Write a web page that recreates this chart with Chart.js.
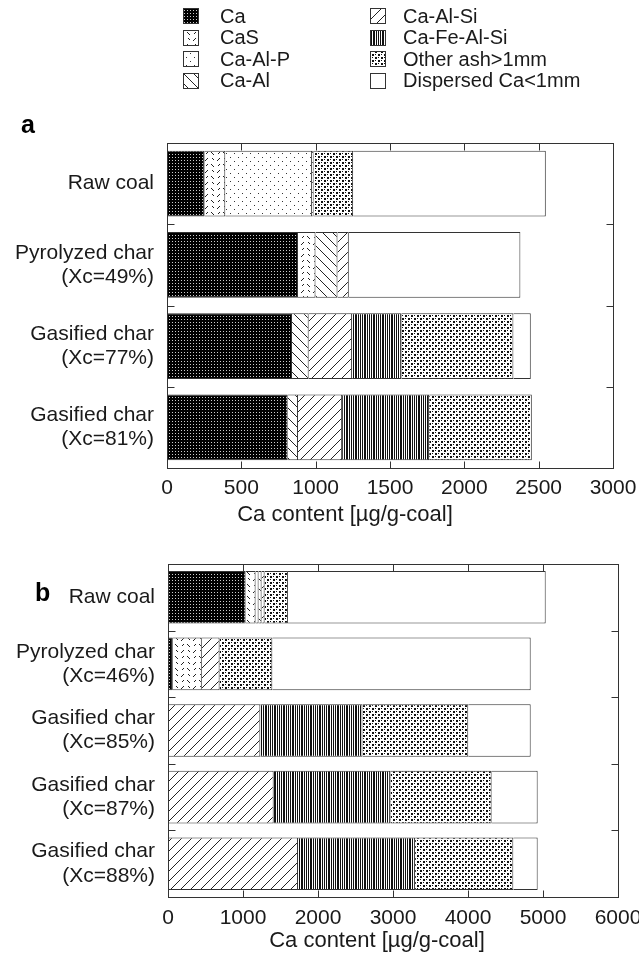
<!DOCTYPE html>
<html><head><meta charset="utf-8">
<script src="https://cdn.jsdelivr.net/npm/chart.js@4/dist/chart.umd.min.js"></script>
<style>
html,body{margin:0;padding:0;background:#fff;width:639px;height:958px;overflow:hidden}
canvas{position:absolute;left:0}
#ca{top:0}
#cb{top:540px}
</style></head><body>
<canvas id="ca" width="639" height="535" style="width:639px;height:535px"></canvas>
<canvas id="cb" width="639" height="418" style="width:639px;height:418px"></canvas>
<script>
// ---------- data ----------
const seriesNames = ['Ca','CaS','Ca-Al-P','Ca-Al','Ca-Al-Si','Ca-Fe-Al-Si','Other ash>1mm','Dispersed Ca<1mm'];
const patternKeys = ['ca','cas','caalp','caal','caalsi','cafealsi','other','disp'];

const categoriesA = [['Raw coal'],['Pyrolyzed char','(Xc=49%)'],['Gasified char','(Xc=77%)'],['Gasified char','(Xc=81%)']];
const caA        = [253, 881, 841, 812];
const casA       = [139, 118, 0, 0];
const caAlPA     = [584, 0, 0, 0];
const caAlA      = [10, 148, 112, 69];
const caAlSiA    = [0, 76, 292, 297];
const caFeAlSiA  = [0, 0, 333, 586];
const otherA     = [266, 0, 752, 690];
const dispersedA = [1296, 1154, 117, 0];
const ticksA = [0, 500, 1000, 1500, 2000, 2500, 3000];

const categoriesB = [['Raw coal'],['Pyrolyzed char','(Xc=46%)'],['Gasified char','(Xc=85%)'],['Gasified char','(Xc=87%)'],['Gasified char','(Xc=88%)']];
const caB        = [1035, 64, 0, 0, 0];
const casB       = [133, 387, 0, 0, 0];
const caAlPB     = [40, 0, 0, 0, 0];
const caAlB      = [40, 0, 0, 0, 0];
const caAlSiB    = [40, 237, 1231, 1409, 1733];
const caFeAlSiB  = [0, 0, 1362, 1558, 1562];
const otherB     = [311, 703, 1410, 1348, 1309];
const dispersedB = [3437, 3445, 833, 614, 325];
const ticksB = [0, 1000, 2000, 3000, 4000, 5000, 6000];

const axisTitle = 'Ca content [\u00b5g/g-coal]';

// ---------- patterns ----------
function tile(w, h, draw) {
  const c = document.createElement('canvas'); c.width = w; c.height = h;
  const g = c.getContext('2d'); draw(g, w, h);
  return g.createPattern(c, 'repeat');
}
const patterns = {
  ca: tile(6, 6, (g) => { g.fillStyle = '#000'; g.fillRect(0,0,6,6); g.fillStyle = '#ccc'; g.fillRect(1,1,1,1); g.fillRect(4,1,1,1); g.fillRect(1,4,1,1); g.fillRect(4,4,1,1); }),
  cas: tile(12, 12, (g) => { g.fillStyle = '#fff'; g.fillRect(0,0,12,12); g.strokeStyle = '#222'; g.lineWidth = 1;
         g.beginPath(); g.moveTo(1,5); g.lineTo(4,2); g.moveTo(7,8); g.lineTo(10,11); g.moveTo(8,2); g.lineTo(10,4); g.moveTo(2,10); g.lineTo(4,8); g.stroke(); }),
  caalp: tile(8, 8, (g) => { g.fillStyle = '#fff'; g.fillRect(0,0,8,8); g.fillStyle = '#333'; g.fillRect(2,1,1,1); g.fillRect(6,5,1,1); }),
  caal: tile(10, 10, (g) => { g.fillStyle = '#fff'; g.fillRect(0,0,10,10); g.strokeStyle = '#222'; g.lineWidth = 1;
         g.beginPath(); g.moveTo(-1,-1); g.lineTo(11,11); g.stroke(); }),
  caalsi: tile(10, 10, (g) => { g.fillStyle = '#fff'; g.fillRect(0,0,10,10); g.strokeStyle = '#222'; g.lineWidth = 1;
         g.beginPath(); g.moveTo(-1,11); g.lineTo(11,-1); g.stroke(); }),
  cafealsi: tile(9, 4, (g) => { g.fillStyle = '#fff'; g.fillRect(0,0,9,4); g.fillStyle = '#111'; g.fillRect(0,0,1,4); g.fillRect(2,0,1,4); g.fillRect(4,0,1,4); g.fillRect(5,0,1,4); g.fillRect(7,0,1,4); }),
  other: tile(6, 6, (g) => { g.fillStyle = '#fff'; g.fillRect(0,0,6,6); g.fillStyle = '#111'; g.fillRect(0,0,2,2); g.fillRect(3,3,2,2); g.fillRect(3,0,1,1); g.fillRect(0,3,1,1); }),
  disp: '#ffffff'
};

const FONT = "'Liberation Sans', Arial, Helvetica, sans-serif";
const TXT = '#1a1a1a';
const EDGE = '#333';

function makeDatasets(arrays, barPct) {
  return arrays.map((arr, i) => ({
    label: seriesNames[i],
    data: arr.map(v => v === 0 ? null : v),
    backgroundColor: patterns[patternKeys[i]],
    borderColor: EDGE,
    borderWidth: {top: 1, right: 1, bottom: 1, left: 0},
    borderSkipped: false,
    barPercentage: barPct,
    categoryPercentage: 1.0
  }));
}

// ---------- plugins ----------
const framePlugin = {
  id: 'frame',
  afterDatasetsDraw(chart) {
    const {ctx, chartArea: {left, right, top, bottom}, scales: {x, y}} = chart;
    ctx.save();
    ctx.strokeStyle = EDGE; ctx.lineWidth = 1;
    const L = Math.round(left) + 0.5, R = Math.round(right) + 0.5, T = Math.round(top) + 0.5, B = Math.round(bottom) + 0.5;
    ctx.strokeRect(L, T, R - L, B - T);
    ctx.beginPath();
    x.ticks.forEach(t => {
      if (t.value <= x.min || t.value >= x.max) return;
      const px = Math.round(x.getPixelForValue(t.value)) + 0.5;
      ctx.moveTo(px, T); ctx.lineTo(px, T + 7);
      ctx.moveTo(px, B); ctx.lineTo(px, B - 7);
    });
    const n = y.ticks.length;
    for (let i = 0; i < n - 1; i++) {
      const py = Math.round((y.getPixelForValue(i) + y.getPixelForValue(i + 1)) / 2) + 0.5;
      ctx.moveTo(L, py); ctx.lineTo(L + 7, py);
      ctx.moveTo(R, py); ctx.lineTo(R - 7, py);
    }
    ctx.stroke();
    ctx.restore();
  }
};

const panelLabelPlugin = {
  id: 'panelLabel',
  afterDraw(chart, args, opts) {
    const ctx = chart.ctx;
    ctx.save();
    ctx.font = 'bold 25px ' + FONT;
    ctx.fillStyle = '#000';
    ctx.textBaseline = 'alphabetic';
    ctx.fillText(opts.text, opts.x, opts.y);
    // axis title
    ctx.font = '22px ' + FONT;
    ctx.fillStyle = TXT;
    ctx.textAlign = 'center';
    ctx.textBaseline = 'middle';
    ctx.fillText(axisTitle, opts.titleX, opts.titleY);
    ctx.restore();
  }
};

const legendPlugin = {
  id: 'gridLegend',
  afterDraw(chart, args, opts) {
    if (!opts.show) return;
    const ctx = chart.ctx;
    ctx.save();
    ctx.font = '20px ' + FONT;
    ctx.textBaseline = 'middle';
    chart.data.datasets.forEach((ds, i) => {
      const col = Math.floor(i / 4), row = i % 4;
      const bx = opts.xs[col], cy = opts.y0 + row * opts.dy;
      const s = opts.box;
      const by = Math.round(cy - s / 2);
      ctx.fillStyle = ds.backgroundColor;
      ctx.fillRect(bx, by, s, s);
      ctx.strokeStyle = EDGE; ctx.lineWidth = 1;
      ctx.strokeRect(bx + 0.5, by + 0.5, s - 1, s - 1);
      ctx.fillStyle = TXT;
      ctx.fillText(ds.label, opts.txs[col], cy + 1);
    });
    ctx.restore();
  }
};

function makeChart(id, cats, arrays, ticks, cfg) {
  return new Chart(document.getElementById(id), {
    type: 'bar',
    data: { labels: cats, datasets: makeDatasets(arrays, cfg.barPct) },
    plugins: [framePlugin, panelLabelPlugin, legendPlugin],
    options: {
      indexAxis: 'y',
      responsive: false,
      animation: false,
      devicePixelRatio: 1,
      layout: { padding: cfg.padding },
      plugins: {
        legend: { display: false },
        tooltip: { enabled: false },
        panelLabel: cfg.panel,
        gridLegend: cfg.legend
      },
      scales: {
        x: {
          stacked: true, min: ticks[0], max: ticks[ticks.length - 1],
          afterBuildTicks: (s) => { s.ticks = ticks.map(v => ({value: v})); },
          grid: { display: false, drawTicks: false },
          border: { display: false },
          ticks: { color: TXT, font: { family: FONT, size: 21 }, padding: cfg.xPad, maxRotation: 0, autoSkip: false,
                   callback: (v) => String(v) },
          title: { display: false },
          afterFit: (s) => { s.height = cfg.xHeight; s.paddingLeft = 0; s.paddingRight = 0; }
        },
        y: {
          stacked: true,
          grid: { display: false, drawTicks: false },
          border: { display: false },
          ticks: { color: TXT, font: { family: FONT, size: 21, lineHeight: 1.15 }, padding: 13, autoSkip: false },
          afterFit: (s) => { s.width = cfg.yWidth; s.paddingTop = 0; s.paddingBottom = 0; }
        }
      }
    }
  });
}

makeChart('ca', categoriesA,
  [caA, casA, caAlPA, caAlA, caAlSiA, caFeAlSiA, otherA, dispersedA], ticksA, {
    padding: { top: 143, right: 26, bottom: 0, left: 0 },
    xHeight: 67, yWidth: 167, xPad: 8, barPct: 0.81,
    panel: { text: 'a', x: 21, y: 133, titleX: 345, titleY: 515 },
    legend: { show: true, xs: [183, 370], txs: [220, 403], y0: 16, dy: 21.5, box: 16 }
  });

makeChart('cb', categoriesB,
  [caB, casB, caAlPB, caAlB, caAlSiB, caFeAlSiB, otherB, dispersedB], ticksB, {
    padding: { top: 24, right: 21, bottom: 0, left: 0 },
    xHeight: 61, yWidth: 168, xPad: 9, barPct: 0.79,
    panel: { text: 'b', x: 35, y: 61, titleX: 377, titleY: 401 },
    legend: { show: false }
  });
</script>
</body></html>
